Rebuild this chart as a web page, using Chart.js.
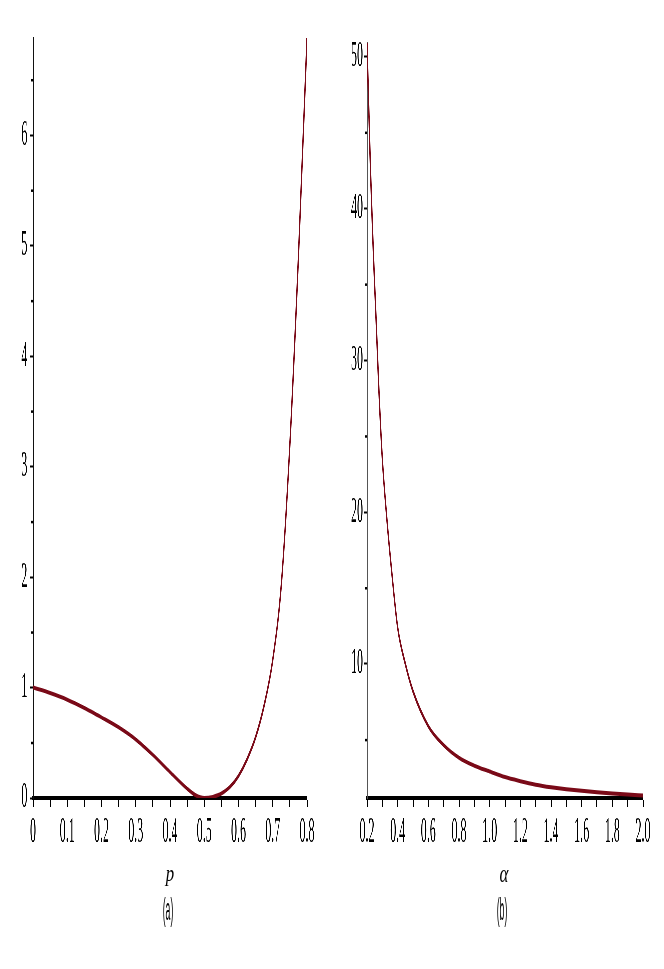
<!DOCTYPE html>
<html>
<head>
<meta charset="utf-8">
<script src="https://cdn.jsdelivr.net/npm/chart.js@4"></script>
<style>
  html, body { margin: 0; padding: 0; background: #fff; overflow: hidden; }
  .panel { position: absolute; top: 0; width: 996px; height: 969px; transform: scaleX(0.3333333); transform-origin: 0 0; }
  .lbl { position: absolute; width: 80px; text-align: center; color: #000; white-space: nowrap; }
  .axt { font-family: 'Liberation Serif'; font-style: italic; }
  .cap { font-family: 'Liberation Sans'; font-size: 31px; line-height: 31px; transform: scaleX(0.28); }
</style>
</head>
<body>
<div class="panel" style="left:0px"><canvas id="chartA" width="996" height="969"></canvas></div>
<div class="panel" style="left:332px"><canvas id="chartB" width="996" height="969"></canvas></div>
<div class="lbl axt" style="left:130px;top:861px;font-size:24px;line-height:24px;transform:scaleX(0.7)">p</div>
<div class="lbl axt" style="left:464px;top:861px;font-size:26px;line-height:26px;transform:scaleX(0.65)">α</div>
<div class="lbl cap" style="left:127.5px;top:894px">(a)</div>
<div class="lbl cap" style="left:462px;top:894px">(b)</div>
<script>
// panel (a): curve against p
const pValues = [0, 0.05, 0.1, 0.15, 0.2, 0.25, 0.3, 0.35, 0.4, 0.45, 0.475, 0.5, 0.525, 0.55, 0.575, 0.6, 0.625, 0.65, 0.675, 0.7, 0.725, 0.75, 0.775, 0.8];
const fValues = [1.00, 0.95, 0.89, 0.815, 0.73, 0.64, 0.53, 0.39, 0.235, 0.085, 0.025, 0.0, 0.01, 0.04, 0.10, 0.20, 0.35, 0.55, 0.84, 1.25, 1.93, 3.2, 4.9, 6.88];
const pTicks = [0, 0.05, 0.1, 0.15, 0.2, 0.25, 0.3, 0.35, 0.4, 0.45, 0.5, 0.55, 0.6, 0.65, 0.7, 0.75, 0.8];
const pLabels = ['0', '', '0.1', '', '0.2', '', '0.3', '', '0.4', '', '0.5', '', '0.6', '', '0.7', '', '0.8'];
const fTicks = [0, 1, 2, 3, 4, 5, 6];
const fMinor = [0.5, 1.5, 2.5, 3.5, 4.5, 5.5, 6.5];

// panel (b): curve against alpha
const alphaValues = [0.2, 0.22, 0.24, 0.26, 0.28, 0.3, 0.33, 0.36, 0.4, 0.45, 0.5, 0.6, 0.7, 0.8, 0.9, 1.0, 1.1, 1.2, 1.3, 1.4, 1.5, 1.6, 1.7, 1.8, 1.9, 2.0];
const gValues = [50.9, 43.5, 37.5, 32.5, 27.5, 23.5, 19.5, 16.2, 12.4, 10.0, 8.2, 5.9, 4.65, 3.82, 3.3, 2.92, 2.55, 2.28, 2.05, 1.88, 1.75, 1.65, 1.55, 1.47, 1.40, 1.34];
const alphaTicks = [0.2, 0.3, 0.4, 0.5, 0.6, 0.7, 0.8, 0.9, 1.0, 1.1, 1.2, 1.3, 1.4, 1.5, 1.6, 1.7, 1.8, 1.9, 2.0];
const alphaLabels = ['0.2', '', '0.4', '', '0.6', '', '0.8', '', '1.0', '', '1.2', '', '1.4', '', '1.6', '', '1.8', '', '2.0'];
const gTicks = [10, 20, 30, 40, 50];
const gMinor = [5, 15, 25, 35, 45];

const curveColor = '#7a0a18';
const tickFont = { family: 'Liberation Serif', size: 36 };

// small dots for the unlabeled half-steps on the y axis
const minorTicks = {
  id: 'minorTicks',
  afterDraw(chart, args, opts) {
    const y = chart.scales.y;
    const ctx = chart.ctx;
    ctx.save();
    ctx.fillStyle = '#000';
    for (const v of opts.values) {
      const py = y.getPixelForValue(v);
      ctx.fillRect(y.right - 5, py - 1, 5, 2.5);
    }
    ctx.restore();
  }
};

function makeChart(id, xs, ys, cfg) {
  new Chart(document.getElementById(id), {
    type: 'scatter',
    data: {
      datasets: [{
        data: xs.map((x, i) => ({ x: x, y: ys[i] })),
        showLine: true,
        borderColor: curveColor,
        borderWidth: 4,
        pointRadius: 0,
        cubicInterpolationMode: 'monotone'
      }]
    },
    options: {
      responsive: false,
      animation: false,
      devicePixelRatio: 1,
      layout: { padding: { left: 0, right: cfg.padRight, top: cfg.padTop, bottom: 0 } },
      plugins: {
        legend: { display: false },
        tooltip: { enabled: false },
        minorTicks: { values: cfg.yMinor }
      },
      scales: {
        x: {
          type: 'linear', min: cfg.xMin, max: cfg.xMax,
          afterBuildTicks: s => { s.ticks = cfg.xTicks.map(v => ({ value: v })); },
          afterFit: s => { s.height = 171; },
          ticks: {
            autoSkip: false, maxRotation: 0, color: '#000', font: tickFont, padding: 4,
            callback: (v, i) => cfg.xLabels[i]
          },
          grid: { drawOnChartArea: false, drawTicks: true, tickLength: 9, tickWidth: 3, tickColor: '#000' },
          border: { display: true, color: '#000', width: 4 }
        },
        y: {
          type: 'linear', min: cfg.yMin, max: cfg.yMax,
          afterBuildTicks: s => { s.ticks = cfg.yTicks.map(v => ({ value: v })); },
          afterFit: s => { s.width = cfg.yWidth; },
          ticks: { color: '#000', font: tickFont, padding: cfg.yPad, callback: v => String(v) },
          grid: { drawOnChartArea: false, drawTicks: true, tickLength: 10, tickWidth: 2, tickColor: '#000' },
          border: { display: true, color: cfg.yAxisColor, width: 3 }
        }
      }
    },
    plugins: [minorTicks]
  });
}

makeChart('chartA', pValues, fValues, {
  padRight: 75, padTop: 38, yWidth: 99, yPad: 7, yAxisColor: '#111',
  xMin: 0, xMax: 0.8, xTicks: pTicks, xLabels: pLabels,
  yMin: 0, yMax: 6.88, yTicks: fTicks, yMinor: fMinor
});

makeChart('chartB', alphaValues, gValues, {
  padRight: 63, padTop: 43, yWidth: 105, yPad: 2, yAxisColor: '#555',
  xMin: 0.2, xMax: 2.0, xTicks: alphaTicks, xLabels: alphaLabels,
  yMin: 1.17, yMax: 50.9, yTicks: gTicks, yMinor: gMinor
});
</script>
</body>
</html>
